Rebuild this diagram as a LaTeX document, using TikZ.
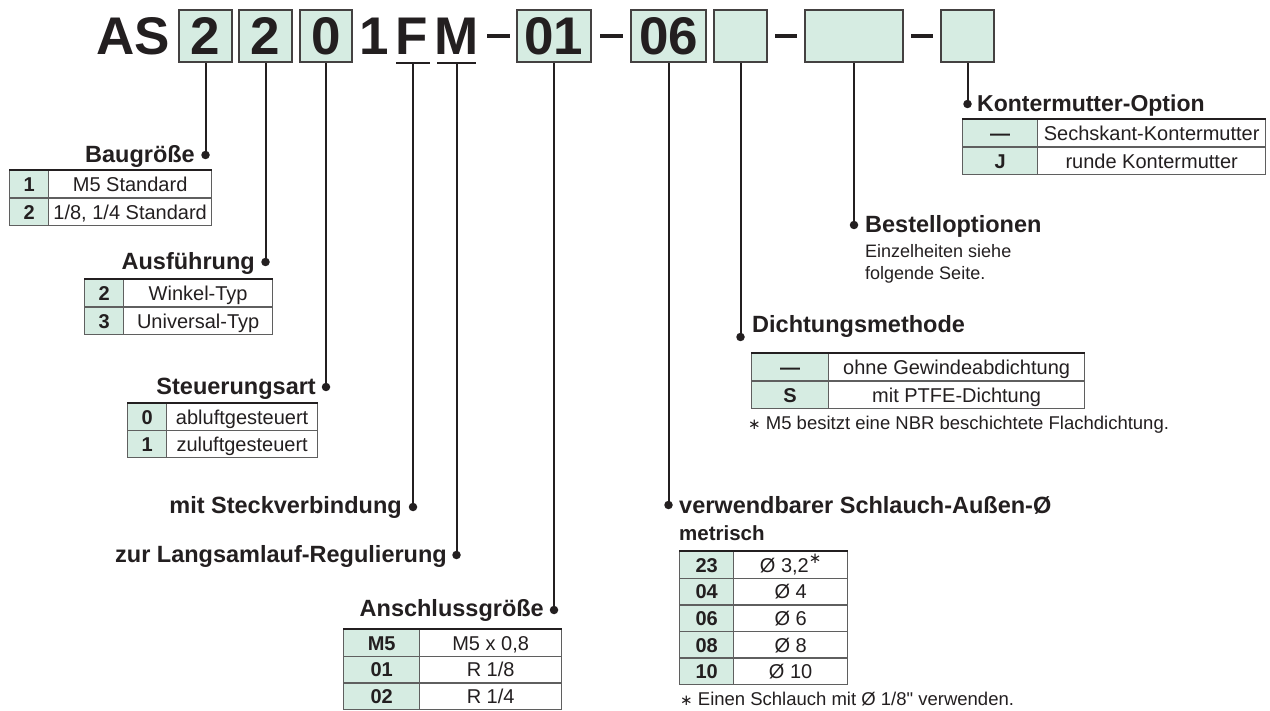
\documentclass[tikz,border=0pt]{standalone}
\usepackage{fontspec}
\setmainfont{Liberation Sans}
\newfontfamily\plainf{Liberation Sans}
\newfontfamily\symf{DejaVu Sans}
\definecolor{boxgreen}{RGB}{214,236,226}
\definecolor{ink}{RGB}{35,31,32}
\definecolor{rulegray}{RGB}{95,95,95}
\newcommand\tabrow[8]{%
  \node[cellL, minimum width=#4pt, minimum height=#6pt, anchor=north west] (#1l) at (#2,#3) {#7};
  \node[cellR, minimum width=#5pt, minimum height=#6pt, anchor=north west] (#1r) at ({#2+#4},#3) {#8};}
\newcommand\astx{{\symf\fontsize{15}{15}\selectfont ∗}}
\tikzset{
  cellbase/.style={draw=rulegray, line width=1.3pt, inner sep=0pt, text=ink,
    text height=14.5pt, text depth=0pt},
  cellL/.style={cellbase, fill=boxgreen, font=\fontsize{20}{22}\selectfont\bfseries},
  cellR/.style={cellbase, fill=white, font=\fontsize{20}{22}\selectfont},
  topline/.style={draw=ink, line width=2.6pt},
  hdr/.style={inner sep=0pt, text=ink, font=\fontsize{23.5}{26}\selectfont\bfseries},
  small/.style={inner sep=0pt, text=ink, font=\fontsize{18.5}{20}\selectfont},
  dotn/.style={circle, fill=ink, inner sep=0pt, minimum size=8.5pt},
  conn/.style={draw=ink, line width=2pt},
  big/.style={inner sep=0pt, text=ink, font=\fontsize{53}{55}\selectfont\bfseries},
  codebox/.style={draw=ink!85, line width=2.4pt, fill=boxgreen, inner sep=0pt,
    minimum height=52pt, text height=38pt, text depth=0pt,
    font=\fontsize{53}{55}\selectfont\bfseries, text=ink},
  bar/.style={fill=ink},
  uline/.style={draw=ink, line width=2.4pt}
}
\begin{document}
\begin{tikzpicture}[x=1pt,y=-1pt]
\useasboundingbox[fill=white] (0,0) rectangle (1270,711);

% ---------- code line ----------
\node[big, anchor=base west] (tAS) at (96,55) {AS};
\node[codebox, minimum width=53pt] (b1) at (205.5,36) {2};
\node[codebox, minimum width=53pt] (b2) at (265.5,36) {2};
\node[codebox, minimum width=52pt] (b3) at (326,36) {0};
\node[big, anchor=base west] (t1) at (359,55) {1};
\node[big, anchor=base west] (tF) at (395,55) {F};
\node[big, anchor=base west] (tM) at (434,55) {M};
\draw[uline] (396,63) -- (430,63);
\draw[uline] (437,63) -- (476,63);
\coordinate (Fu) at (413,63);
\coordinate (Mu) at (456.5,63);
\fill[bar] (487,34) rectangle (510,38.5);
\node[codebox, minimum width=74pt] (b01) at (554,36) {01};
\fill[bar] (600,34) rectangle (623,38.5);
\node[codebox, minimum width=75pt] (b06) at (668.5,36) {06};
\node[codebox, minimum width=53pt] (bD) at (740.5,36) {};
\fill[bar] (775,34) rectangle (797,38.5);
\node[codebox, minimum width=98pt] (bB) at (854,36) {};
\fill[bar] (911,34) rectangle (933,38.5);
\node[codebox, minimum width=53pt] (bK) at (967.5,36) {};

% ---------- Baugröße ----------
\node[dotn] (d1) at (205.5,155) {};
\draw[conn] (b1.south) -- (d1.center);
\node[hdr, anchor=base east] (h1) at (195,163) {Baugröße};
\tabrow{ta}{9}{170}{39}{163}{27.5}{1}{M5 Standard}
\tabrow{tb}{9}{197.5}{39}{163}{27.5}{2}{1/8, 1/4 Standard}
\draw[topline] (tal.north west) -- (tar.north east);

% ---------- Ausführung ----------
\node[dotn] (d2) at (265.5,262) {};
\draw[conn] (b2.south) -- (d2.center);
\node[hdr, anchor=base east] (h2) at (255,270) {Ausführung};
\tabrow{tc}{84}{279}{39}{149}{27.5}{2}{Winkel-Typ}
\tabrow{td}{84}{306.5}{39}{149}{27.5}{3}{Universal-Typ}
\draw[topline] (tcl.north west) -- (tcr.north east);

% ---------- Steuerungsart ----------
\node[dotn] (d3) at (326,387) {};
\draw[conn] (b3.south) -- (d3.center);
\node[hdr, anchor=base east] (h3) at (316,395) {Steuerungsart};
\tabrow{te}{127}{403}{39}{151}{27}{0}{abluftgesteuert}
\tabrow{tf}{127}{430}{39}{151}{27}{1}{zuluftgesteuert}
\draw[topline] (tel.north west) -- (ter.north east);

% ---------- Steckverbindung / Langsamlauf ----------
\node[dotn] (d4) at (413,507) {};
\draw[conn] (Fu) -- (d4.center);
\node[hdr, anchor=base east] (h4) at (402,513) {mit Steckverbindung};
\node[dotn] (d5) at (456.5,555) {};
\draw[conn] (Mu) -- (d5.center);
\node[hdr, anchor=base east] (h5) at (447,562) {zur Langsamlauf-Regulierung};

% ---------- Anschlussgröße ----------
\node[dotn] (d6) at (554,610) {};
\draw[conn] (b01.south) -- (d6.center);
\node[hdr, anchor=base east] (h6) at (544,616) {Anschlussgröße};
\tabrow{tg}{343}{629}{76}{142}{26.7}{M5}{M5 x 0,8}
\tabrow{th}{343}{655.7}{76}{142}{26.7}{01}{R 1/8}
\tabrow{ti}{343}{682.4}{76}{142}{26.7}{02}{R 1/4}
\draw[topline] (tgl.north west) -- (tgr.north east);

% ---------- Schlauch ----------
\node[dotn] (d7) at (668.5,505) {};
\draw[conn] (b06.south) -- (d7.center);
\node[hdr, anchor=base west] (h7) at (679,513) {verwendbarer Schlauch-Außen-Ø};
\node[hdr, anchor=base west, font=\fontsize{20.5}{22}\selectfont\bfseries] (h7b) at (679,540) {metrisch};
\tabrow{tj}{679}{551}{54}{114}{26.6}{23}{Ø 3,2\raisebox{0.42em}{\astx}}
\tabrow{tk}{679}{577.6}{54}{114}{26.6}{04}{Ø 4}
\tabrow{tl}{679}{604.2}{54}{114}{26.6}{06}{Ø 6}
\tabrow{tm}{679}{630.8}{54}{114}{26.6}{08}{Ø 8}
\tabrow{tn}{679}{657.4}{54}{114}{26.6}{10}{Ø 10}
\draw[topline] (tjl.north west) -- (tjr.north east);
\node[small, anchor=base west] (f2) at (680,705) {\astx\ Einen Schlauch mit Ø 1/8{\plainf "} verwenden.};

% ---------- Dichtungsmethode ----------
\node[dotn] (d8) at (740.5,337) {};
\draw[conn] (bD.south) -- (d8.center);
\node[hdr, anchor=base west] (h8) at (752,333) {Dichtungsmethode};
\tabrow{to}{751}{353}{77}{256}{27.5}{—}{ohne Gewindeabdichtung}
\tabrow{tp}{751}{380.5}{77}{256}{27.5}{S}{mit PTFE-Dichtung}
\draw[topline] (tol.north west) -- (tor.north east);
\node[small, anchor=base west] (f1) at (748,430) {\astx\ M5 besitzt eine NBR beschichtete Flachdichtung.};

% ---------- Bestelloptionen ----------
\node[dotn] (d9) at (854,225) {};
\draw[conn] (bB.south) -- (d9.center);
\node[hdr, anchor=base west] (h9) at (865,233) {Bestelloptionen};
\node[small, anchor=base west, font=\fontsize{18}{20}\selectfont] (n9a) at (865,258) {Einzelheiten siehe};
\node[small, anchor=base west, font=\fontsize{18}{20}\selectfont] (n9b) at (865,280) {folgende Seite.};

% ---------- Kontermutter ----------
\node[dotn] (d10) at (967.5,104) {};
\draw[conn] (bK.south) -- (d10.center);
\node[hdr, anchor=base west, font=\fontsize{23}{26}\selectfont\bfseries] (h10) at (977,112) {Kontermutter-Option};
\tabrow{tq}{962}{119}{75}{228}{27.5}{—}{Sechskant-Kontermutter}
\tabrow{tr}{962}{146.5}{75}{228}{27.5}{J}{runde Kontermutter}
\draw[topline] (tql.north west) -- (tqr.north east);
\end{tikzpicture}
\end{document}
